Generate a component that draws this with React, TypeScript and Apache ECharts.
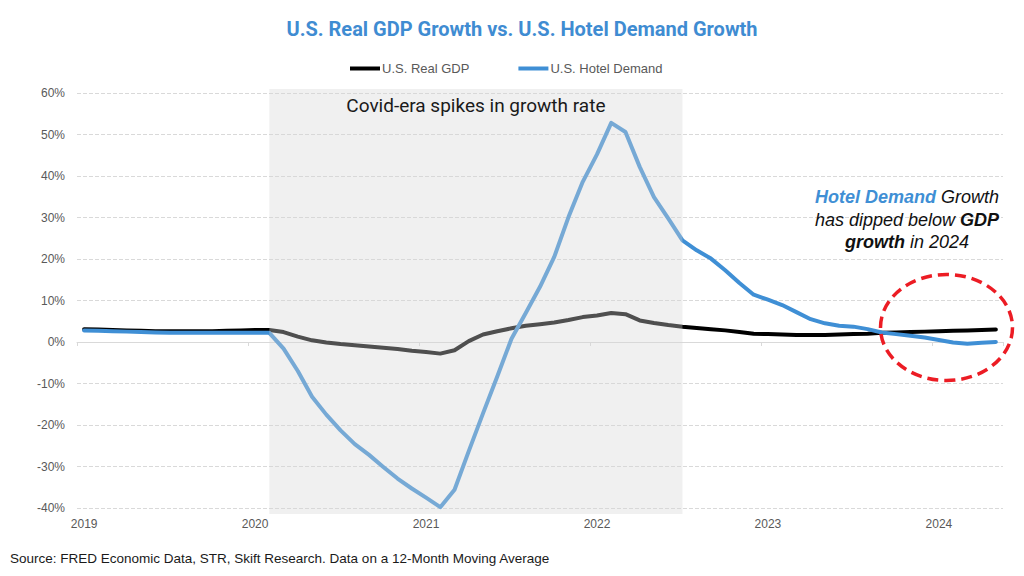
import React, { useEffect, useRef } from "react";
import * as echarts from "echarts";

const months = [
  "2019-01", "2019-02", "2019-03", "2019-04", "2019-05", "2019-06", "2019-07", "2019-08", "2019-09", "2019-10", "2019-11", "2019-12",
  "2020-01", "2020-02", "2020-03", "2020-04", "2020-05", "2020-06", "2020-07", "2020-08", "2020-09", "2020-10", "2020-11", "2020-12",
  "2021-01", "2021-02", "2021-03", "2021-04", "2021-05", "2021-06", "2021-07", "2021-08", "2021-09", "2021-10", "2021-11", "2021-12",
  "2022-01", "2022-02", "2022-03", "2022-04", "2022-05", "2022-06", "2022-07", "2022-08", "2022-09", "2022-10", "2022-11", "2022-12",
  "2023-01", "2023-02", "2023-03", "2023-04", "2023-05", "2023-06", "2023-07", "2023-08", "2023-09", "2023-10", "2023-11", "2023-12",
  "2024-01", "2024-02", "2024-03", "2024-04", "2024-05",
];

const gdpGrowth = [
  3.1, 3.0, 2.9, 2.8, 2.7, 2.6, 2.6, 2.6, 2.6, 2.6, 2.7, 2.8, 2.9, 2.9,
  2.4, 1.3, 0.4, -0.1, -0.5, -0.8, -1.1, -1.4, -1.7, -2.1, -2.4, -2.8, -2.0, 0.2, 1.8,
  2.6, 3.3, 3.9, 4.3, 4.7, 5.3, 6.0, 6.4, 7.0, 6.7, 5.2, 4.6, 4.1, 3.7,
  3.4, 3.1, 2.8, 2.4, 2.0, 1.9, 1.8, 1.7, 1.7, 1.7, 1.8, 1.9, 2.0, 2.2, 2.3, 2.4, 2.5,
  2.6, 2.7, 2.8, 2.9, 3.0,
];

const hotelDemandGrowth = [
  2.8, 2.7, 2.6, 2.5, 2.4, 2.3, 2.2, 2.2, 2.2, 2.2, 2.2, 2.2, 2.2, 2.2,
  -1.6, -7.0, -13.2, -17.5, -21.3, -24.6, -27.2, -30.1, -32.9, -35.3, -37.5, -39.8, -35.6, -26.3, -17.2,
  -8.3, 0.8, 7.0, 13.3, 20.5, 30.1, 38.6, 45.2, 52.8, 50.6, 42.2, 34.9, 29.8, 24.5,
  22.1, 20.1, 17.3, 14.2, 11.4, 10.2, 8.9, 7.2, 5.5, 4.5, 3.9, 3.7, 3.1, 2.3, 1.9, 1.5, 1.1,
  0.5, -0.1, -0.4, -0.2, 0.0,
];

const seriesNames = ["U.S. Real GDP", "U.S. Hotel Demand"];
const covidRange = ["2020-02", "2022-07"];
const covidLabel = "Covid-era spikes in growth rate";
const yMin = -40;
const yMax = 60;
const yStep = 10;
const titleText = "U.S. Real GDP Growth vs. U.S. Hotel Demand Growth";
const sourceText = "Source: FRED Economic Data, STR, Skift Research. Data on a 12-Month Moving Average";

const BLUE = "#3f8fd5";
const ANN_FONT = "'Liberation Sans', Arial, sans-serif";

export default function App() {
  const ref = useRef<HTMLDivElement>(null);

  useEffect(() => {
    const chart = echarts.init(ref.current as HTMLDivElement, null, { renderer: "svg" });
    chart.setOption({
      animation: false,
      backgroundColor: "#ffffff",
      textStyle: { fontFamily: "Roboto, 'Liberation Sans', sans-serif" },
      legend: {
        data: seriesNames,
        left: 350,
        top: 62,
        icon: "rect",
        itemWidth: 30,
        itemHeight: 4,
        itemGap: 49,
        padding: 0,
        textStyle: { fontSize: 13, color: "#595959", fontFamily: "'Liberation Sans', Arial, sans-serif", padding: [0, 0, 0, -3] },
      },
      grid: { left: 77, right: 21, top: 93, bottom: 68 },
      xAxis: [
        {
          type: "category",
          data: months,
          boundaryGap: true,
          position: "bottom",
          axisLine: { show: false, onZero: false },
          axisTick: { show: false },
          splitLine: { show: false },
          axisLabel: {
            interval: 11,
            formatter: (v: string) => v.slice(0, 4),
            color: "#595959",
            fontSize: 12,
            fontFamily: "'Liberation Sans Narrow', 'Liberation Sans', sans-serif",
            margin: 10,
          },
        },
        {
          type: "category",
          data: months,
          boundaryGap: true,
          position: "bottom",
          axisLine: { show: true, onZero: true, lineStyle: { color: "#d9d9d9", width: 1 } },
          axisTick: { show: true, interval: 11, length: 4, lineStyle: { color: "#d9d9d9" } },
          axisLabel: { show: false },
          splitLine: { show: false },
        },
      ],
      yAxis: {
        type: "value",
        min: yMin,
        max: yMax,
        interval: yStep,
        axisLine: { show: false },
        axisTick: { show: false },
        axisLabel: {
          formatter: "{value}%",
          color: "#595959",
          fontSize: 12,
          margin: 12,
          fontFamily: "'Liberation Sans', Arial, sans-serif",
        },
        splitLine: { lineStyle: { color: "#d9d9d9", type: "dashed", width: 1 } },
      },
      series: [
        {
          name: seriesNames[0],
          type: "line",
          data: gdpGrowth,
          symbol: "none",
          z: 3,
          lineStyle: { color: "#000000", width: 4, cap: "round", join: "round" },
          itemStyle: { color: "#000000" },
        },
        {
          name: seriesNames[1],
          type: "line",
          data: hotelDemandGrowth,
          symbol: "none",
          z: 4,
          lineStyle: { color: BLUE, width: 4, cap: "round", join: "round" },
          itemStyle: { color: BLUE },
        },
        {
          name: "overlay",
          type: "line",
          data: [],
          z: 10,
          silent: true,
          markArea: {
            silent: true,
            z: 10,
            itemStyle: { color: "rgba(214,214,214,0.37)" },
            label: {
              show: true,
              position: "insideTop",
              distance: 7,
              color: "#1a1a1a",
              fontSize: 19,
              fontFamily: "Roboto, sans-serif",
            },
            data: [[
              { name: covidLabel, xAxis: covidRange[0], y: 89 },
              { xAxis: covidRange[1], y: 514 },
            ]],
          },
        },
      ],
      graphic: [
        {
          type: "text",
          x: 522,
          y: 29,
          z: 50,
          style: {
            text: titleText,
            fill: "#3f8cd2",
            font: "bold 20px Roboto, sans-serif",
            align: "center",
            verticalAlign: "middle",
          },
        },
        {
          type: "text",
          x: 10,
          y: 558,
          z: 50,
          style: {
            text: sourceText,
            fill: "#1a1a1a",
            font: "13.5px 'Liberation Sans Narrow', 'Liberation Sans', sans-serif",
            align: "left",
            verticalAlign: "middle",
          },
        },
        {
          type: "text",
          x: 907,
          y: 186,
          z: 50,
          style: {
            text: "{hb|Hotel Demand} {n|Growth}\n{n|has dipped below} {kb|GDP}\n{kb|growth} {n|in 2024}",
            font: "italic 18px " + ANN_FONT,
            fill: "#111111",
            align: "center",
            verticalAlign: "top",
            lineHeight: 22.5,
            rich: {
              hb: { fill: BLUE, fontStyle: "italic", fontWeight: "bold", fontSize: 18, fontFamily: ANN_FONT, lineHeight: 22.5 },
              kb: { fill: "#111111", fontStyle: "italic", fontWeight: "bold", fontSize: 18, fontFamily: ANN_FONT, lineHeight: 22.5 },
              n: { fill: "#111111", fontStyle: "italic", fontSize: 18, fontFamily: ANN_FONT, lineHeight: 22.5 },
            },
          },
        },
        {
          type: "ellipse",
          z: 60,
          silent: true,
          shape: { cx: 946.5, cy: 327.5, rx: 66, ry: 53 },
          style: { fill: "none", stroke: "#ec1c24", lineWidth: 3.5, lineDash: [11, 6] },
        },
      ],
    });
    return () => chart.dispose();
  }, []);

  return (
    <div
      ref={ref}
      style={{ position: "fixed", left: 0, top: 0, width: 1024, height: 576, background: "#fff" }}
    />
  );
}
